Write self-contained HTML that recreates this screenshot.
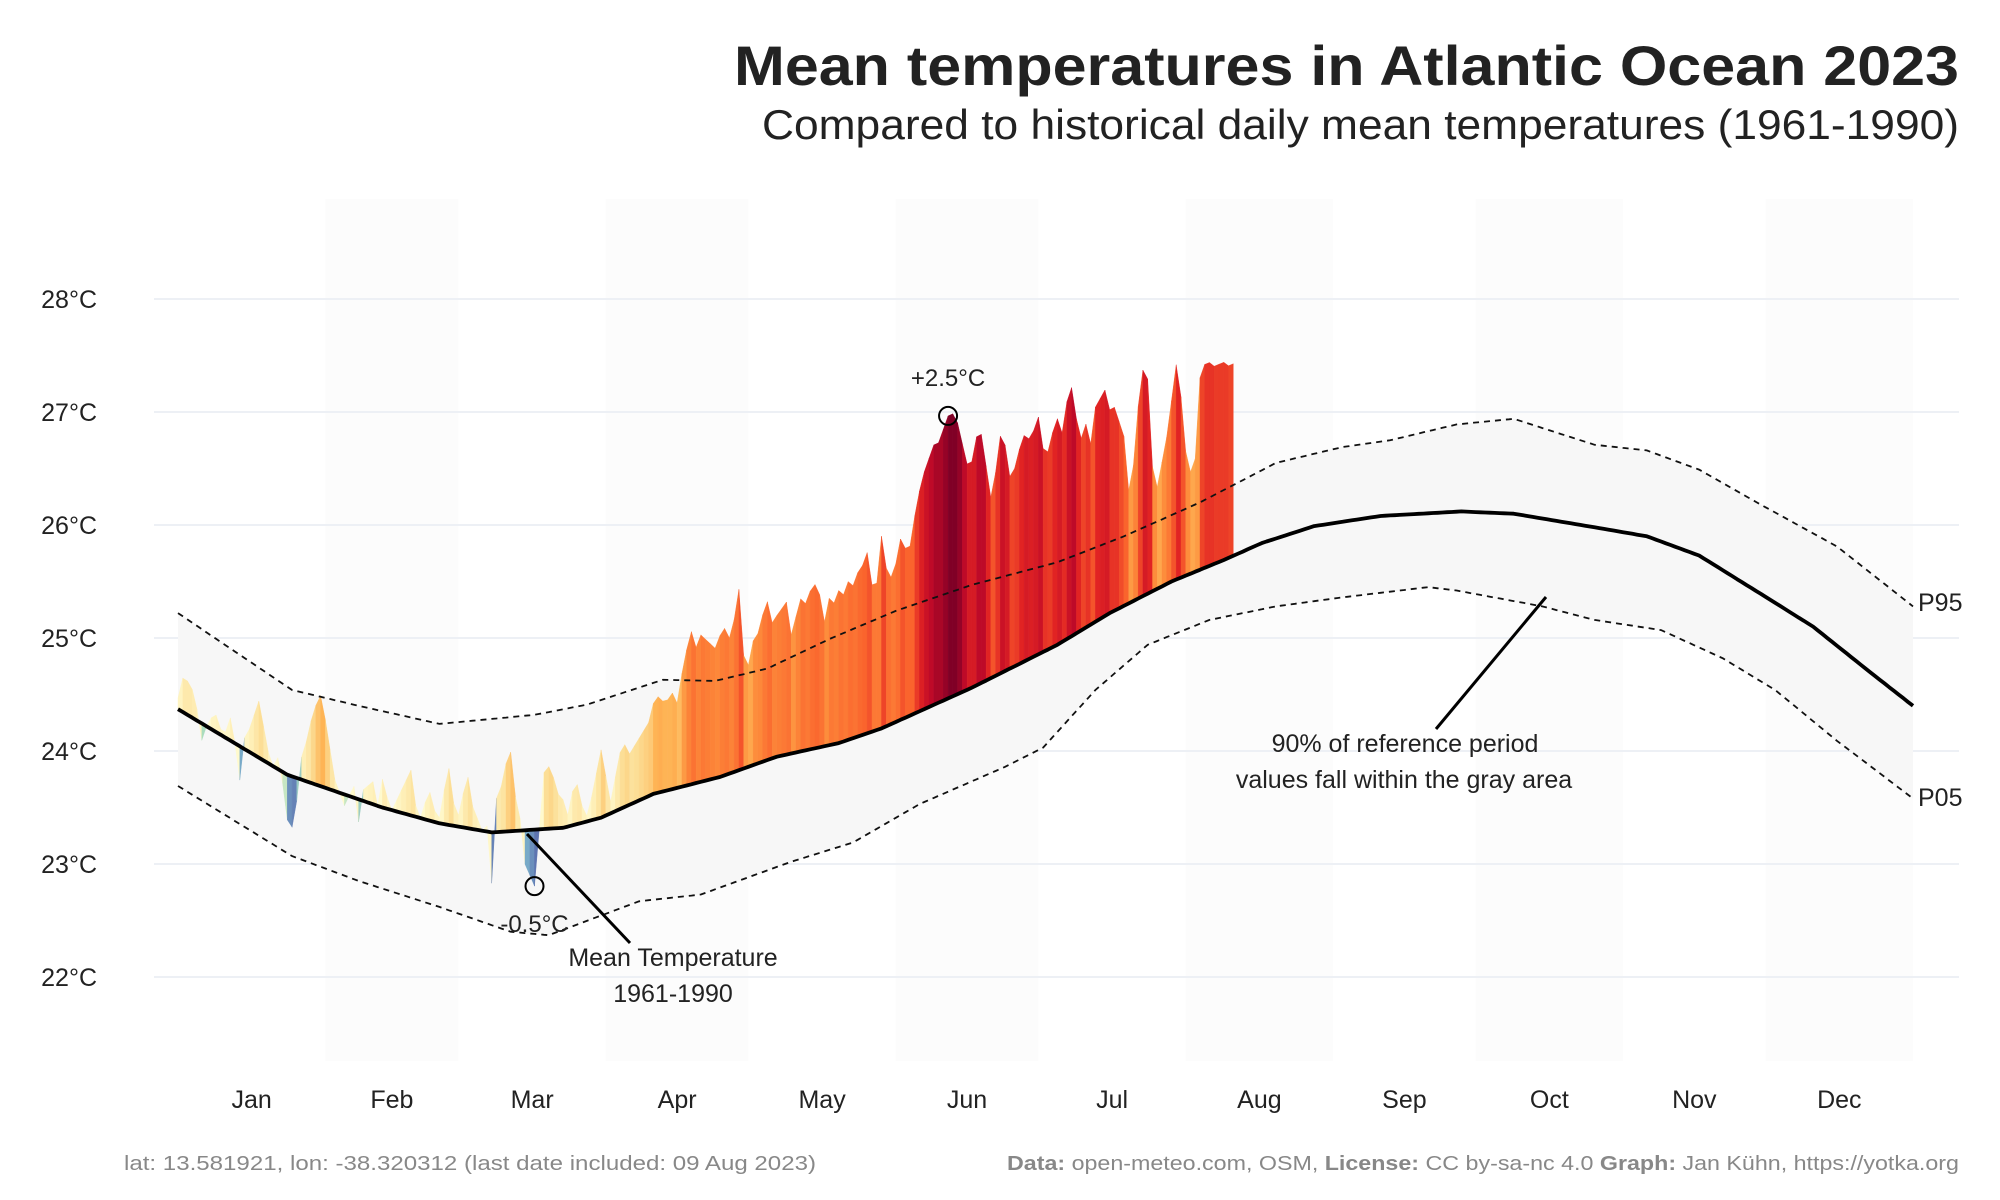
<!DOCTYPE html>
<html><head><meta charset="utf-8"><style>
html,body{margin:0;padding:0;background:#fff;}
svg{display:block;font-family:"Liberation Sans",sans-serif;}
</style></head><body>
<svg id="chart" width="2000" height="1200" viewBox="0 0 2000 1200">
<text x="1959" y="85" text-anchor="end" font-size="56" font-weight="bold" fill="#222" textLength="1225" lengthAdjust="spacingAndGlyphs">Mean temperatures in Atlantic Ocean 2023</text>
<text x="1959" y="139" text-anchor="end" font-size="42" fill="#222" textLength="1197" lengthAdjust="spacingAndGlyphs">Compared to historical daily mean temperatures (1961-1990)</text>
<g id="bands"></g><g id="grid"></g><g id="area"></g><g id="bars"></g><g id="lines"></g><g id="ann"></g><g id="axes"></g>
<text x="124" y="1170" font-size="20" fill="#888" textLength="692" lengthAdjust="spacingAndGlyphs">lat: 13.581921, lon: -38.320312 (last date included: 09 Aug 2023)</text>
<text x="1959" y="1170" text-anchor="end" font-size="20" fill="#888" textLength="952" lengthAdjust="spacingAndGlyphs"><tspan font-weight="bold">Data:</tspan> open-meteo.com, OSM, <tspan font-weight="bold">License:</tspan> CC by-sa-nc 4.0  <tspan font-weight="bold">Graph:</tspan> Jan Kühn, https://yotka.org</text>
</svg>
<script>
const monthLabels=["Jan","Feb","Mar","Apr","May","Jun","Jul","Aug","Sep","Oct","Nov","Dec"];
const monthStarts=[0,31,59,90,120,151,181,212,243,273,304,334,365];
const yTicks=[22,23,24,25,26,27,28];
const meanDays=[0,23,43,55,66,81,89,100,114,126,139,148,167,185,196,209,220,228,239,253,270,281,298,309,320,333,344,355,365];
const meanTemps=[24.37,23.79,23.5,23.36,23.28,23.32,23.41,23.62,23.77,23.95,24.07,24.2,24.56,24.94,25.22,25.5,25.69,25.84,25.99,26.08,26.12,26.1,25.98,25.9,25.73,25.39,25.1,24.73,24.4];
const p95Days=[0,24,38,55,75,86,102,113,124,137,151,167,185,199,215,231,245,255,269,281,298,309,320,333,349,365];
const p95Temps=[25.22,24.54,24.4,24.24,24.32,24.41,24.63,24.62,24.73,24.99,25.24,25.47,25.67,25.9,26.2,26.55,26.69,26.75,26.89,26.94,26.71,26.66,26.49,26.18,25.81,25.28];
const p05Days=[0,24,38,55,70,78,97,110,129,142,156,174,182,193,204,217,231,245,263,269,287,298,312,325,336,349,365];
const p05Temps=[23.69,23.07,22.85,22.62,22.4,22.37,22.67,22.73,23.02,23.19,23.53,23.86,24.03,24.54,24.94,25.16,25.28,25.36,25.45,25.42,25.28,25.16,25.07,24.82,24.54,24.09,23.58];
const anomaly2023=[
0.1,0.3,0.3,0.25,0.1,-0.15,0.0,0.1,0.15,0.05,
0.05,0.2,0.0,-0.3,0.1,0.2,0.35,0.5,0.3,0.1,
0.0,0.1,-0.1,-0.4,-0.45,-0.2,0.2,0.35,0.55,0.7,
0.8,0.6,0.35,0.1,0.0,-0.1,0.0,0.1,-0.2,0.1,
0.15,0.2,0.0,0.25,0.1,0.0,0.1,0.2,0.3,0.4,
0.1,0.0,0.15,0.25,0.1,0.05,0.3,0.5,0.2,0.1,
0.3,0.45,0.2,0.1,0.0,0.05,-0.45,0.3,0.4,0.6,
0.7,0.3,0.1,-0.3,-0.4,-0.5,0.0,0.5,0.55,0.45,
0.3,0.25,0.1,0.3,0.35,0.15,0.05,0.2,0.4,0.6,
0.35,0.1,0.3,0.5,0.55,0.45,0.5,0.55,0.6,0.65,
0.8,0.85,0.8,0.8,0.85,0.75,1.0,1.2,1.35,1.2,
1.3,1.25,1.2,1.15,1.25,1.3,1.2,1.35,1.6,1.0,
0.9,1.1,1.15,1.3,1.4,1.2,1.25,1.3,1.35,1.05,
1.2,1.35,1.3,1.4,1.45,1.35,1.1,1.3,1.25,1.35,
1.3,1.4,1.35,1.45,1.5,1.6,1.3,1.3,1.7,1.4,
1.3,1.4,1.6,1.5,1.5,1.75,1.95,2.1,2.2,2.3,
2.3,2.4,2.5,2.5,2.4,2.2,2.0,2.0,2.2,2.2,
1.9,1.6,1.8,2.1,2.0,1.7,1.75,1.9,2.0,1.95,
2.0,2.1,1.8,1.75,1.9,2.0,1.85,2.1,2.2,1.9,
1.7,1.8,1.6,1.9,1.95,2.0,1.8,1.8,1.65,1.5,
1.0,1.2,1.7,2.0,1.9,1.1,0.9,1.1,1.3,1.6,
1.9,1.6,1.1,0.9,1.0,1.7,1.8,1.8,1.75,1.75,
1.75,1.7];

const NS="http://www.w3.org/2000/svg";
const X=d=>178+d*(1735/365);
const Y=t=>977-(t-22)*113;
function interp(days,vals,d){for(let i=0;i<days.length-1;i++){if(d<=days[i+1]){const f=(d-days[i])/(days[i+1]-days[i]);return vals[i]+f*(vals[i+1]-vals[i]);}}return vals[vals.length-1];}
function mk(tag,attrs,parent){const e=document.createElementNS(NS,tag);for(const k in attrs)e.setAttribute(k,attrs[k]);document.getElementById(parent).appendChild(e);return e;}
const stops=[[-0.5,[94,116,176]],[-0.3,[120,170,200]],[-0.15,[170,220,190]],[0,[255,250,205]],[0.5,[252,222,150]],[0.8,[254,180,85]],[1.1,[253,141,60]],[1.5,[250,100,45]],[1.9,[225,35,35]],[2.2,[190,10,40]],[2.5,[128,0,38]]];
function col(a){if(a<=stops[0][0])return 'rgb('+stops[0][1]+')';for(let i=0;i<stops.length-1;i++){if(a<=stops[i+1][0]){const f=(a-stops[i][0])/(stops[i+1][0]-stops[i][0]);const c=stops[i][1].map((v,j)=>Math.round(v+f*(stops[i+1][1][j]-v)));return 'rgb('+c+')';}}return 'rgb('+stops[stops.length-1][1]+')';}

for(let m=1;m<12;m+=2){
 const r=mk('rect',{x:X(monthStarts[m]),y:199,width:X(monthStarts[m+1])-X(monthStarts[m]),height:862,fill:'#fcfcfc'},'bands');
 
 
}
yTicks.forEach(t=>{
 const l=mk('line',{x1:154,x2:1959,y1:Y(t),y2:Y(t),stroke:'#edf0f5','stroke-width':2},'grid');
 
 
 const tx=mk('text',{x:97,y:Y(t)+9,'text-anchor':'end','font-size':25,fill:'#222'},'axes');
 tx.textContent=t+'°C';
 
 
});
monthLabels.forEach((m,i)=>{
 const tx=mk('text',{x:X((monthStarts[i]+monthStarts[i+1])/2),y:1108,'text-anchor':'middle','font-size':25,fill:'#222'},'axes');
 tx.textContent=m;
 
 
});
let up=[],lo=[];
for(let d=0;d<=365;d++){up.push(X(d).toFixed(1)+','+Y(interp(p95Days,p95Temps,d)).toFixed(1));lo.push(X(d).toFixed(1)+','+Y(interp(p05Days,p05Temps,d)).toFixed(1));}
const ar=mk('polygon',{points:up.concat(lo.reverse()).join(' '),fill:'#f7f7f7'},'area');


const n=anomaly2023.length;
for(let d=0;d<n;d++){
 const d2=Math.min(d+1,n-1);
 const m1=interp(meanDays,meanTemps,d),m2=interp(meanDays,meanTemps,d+1);
 const t1=m1+anomaly2023[d],t2=m2+anomaly2023[d2];
 const pts=[[X(d),Y(m1)],[X(d),Y(t1)],[X(d+1),Y(t2)],[X(d+1),Y(m2)]].map(p=>p[0].toFixed(1)+','+p[1].toFixed(1)).join(' ');
 const p=mk('polygon',{points:pts,fill:col(anomaly2023[d]),stroke:col(anomaly2023[d]),'stroke-width':0.4},'bars');
 
 
}
function line(days,vals,attrs,name){let pts=[];for(let d=0;d<=365;d++)pts.push(X(d).toFixed(1)+','+Y(interp(days,vals,d)).toFixed(1));attrs.points=pts.join(' ');attrs.fill='none';const e=mk('polyline',attrs,'lines');return e;}
line(p95Days,p95Temps,{stroke:'#111','stroke-width':1.8,'stroke-dasharray':'6 5'},'p95-line');
line(p05Days,p05Temps,{stroke:'#111','stroke-width':1.8,'stroke-dasharray':'6 5'},'p05-line');
line(meanDays,meanTemps,{stroke:'#000','stroke-width':3.8,'stroke-linejoin':'round'},'mean-line');
let iMax=0,iMin=0;anomaly2023.forEach((a,i)=>{if(a>anomaly2023[iMax])iMax=i;if(a<anomaly2023[iMin])iMin=i;});
function mark(i,lab,dy,name){
 const t=interp(meanDays,meanTemps,i)+anomaly2023[i];
 const c=mk('circle',{cx:X(i),cy:Y(t),r:9,fill:'none',stroke:'#000','stroke-width':2},'ann');
 
 
 const tx=mk('text',{x:X(i),y:Y(t)+dy,'text-anchor':'middle','font-size':24,fill:'#222'},'ann');
 tx.textContent=lab;
 
 
}
mark(iMax,'+'+anomaly2023[iMax].toFixed(1)+'°C',-30,'max-anomaly');
mark(iMin,anomaly2023[iMin].toFixed(1)+'°C',46,'min-anomaly');
</script>
<script>
(function(){
const NS="http://www.w3.org/2000/svg";const g=document.getElementById('ann');
function add(tag,a,name){const e=document.createElementNS(NS,tag);for(const k in a)e.setAttribute(k,a[k]);g.appendChild(e);return e;}
add('line',{x1:527,y1:834,x2:630,y2:943,stroke:'#000','stroke-width':3},'mean-annotation-line');
let t=add('text',{x:673,y:966,'text-anchor':'middle','font-size':25,fill:'#222'},'mean-annotation-text');t.textContent='Mean Temperature';
t=add('text',{x:673,y:1002,'text-anchor':'middle','font-size':25,fill:'#222'},'mean-annotation-years');t.textContent='1961-1990';
add('line',{x1:1546,y1:597,x2:1436,y2:729,stroke:'#000','stroke-width':3},'range-annotation-line');
t=add('text',{x:1405,y:752,'text-anchor':'middle','font-size':25,fill:'#222'},'range-annotation-text');t.textContent='90% of reference period';
t=add('text',{x:1404,y:788,'text-anchor':'middle','font-size':25,fill:'#222'},'range-annotation-text-2');t.textContent='values fall within the gray area';
t=add('text',{x:1918,y:611,'font-size':25,fill:'#222'},'p95-label');t.textContent='P95';
t=add('text',{x:1918,y:806,'font-size':25,fill:'#222'},'p05-label');t.textContent='P05';
})();
</script>
</body></html>
